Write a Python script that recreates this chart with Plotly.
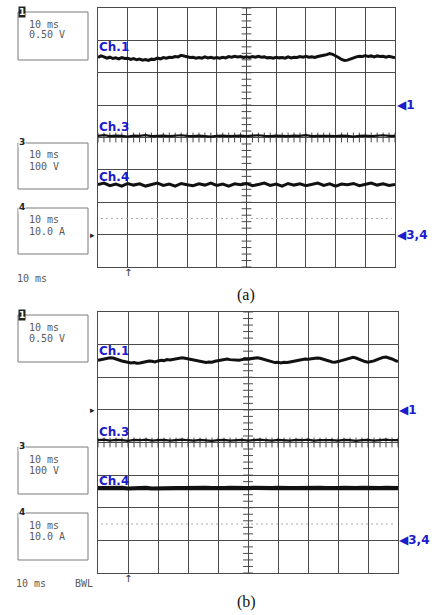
import plotly.graph_objects as go

W, H = 434, 615

# ---------------- data (screen divisions; time in ms, 10 ms/div) ----------------
t_fine = [i * 1.0 for i in range(101)]          # 0..100 ms, 1 ms steps
t_coarse = [i * 2.0 for i in range(51)]         # 0..100 ms, 2 ms steps

a_ch1 = [2.47, 2.52, 2.49, 2.45, 2.48, 2.44, 2.46, 2.43, 2.47, 2.44,
         2.45, 2.41, 2.44, 2.40, 2.42, 2.39, 2.41, 2.38, 2.42, 2.41,
         2.45, 2.43, 2.47, 2.45, 2.48, 2.47, 2.50, 2.49, 2.54, 2.51,
         2.50, 2.47, 2.48, 2.45, 2.47, 2.45, 2.49, 2.46, 2.48, 2.45,
         2.47, 2.45, 2.48, 2.46, 2.50, 2.48, 2.51, 2.49, 2.50, 2.47,
         2.49, 2.47, 2.50, 2.48, 2.51, 2.48, 2.49, 2.46, 2.47, 2.45,
         2.48, 2.46, 2.47, 2.45, 2.49, 2.46, 2.48, 2.47, 2.50, 2.48,
         2.51, 2.48, 2.49, 2.47, 2.50, 2.51, 2.54, 2.56, 2.59, 2.57,
         2.53, 2.47, 2.41, 2.38, 2.39, 2.43, 2.46, 2.49, 2.51, 2.50,
         2.53, 2.50, 2.52, 2.49, 2.52, 2.50, 2.51, 2.48, 2.51, 2.49,
         2.46]
a_ch3 = [0.05, 0.07, 0.04, 0.06, 0.05, 0.03, 0.06, 0.05, 0.07, 0.04,
         0.05, 0.06, 0.04, 0.05, 0.07, 0.05, 0.04, 0.06, 0.05, 0.03,
         0.05, 0.06, 0.04, 0.05, 0.06, 0.04, 0.05, 0.07, 0.05, 0.04,
         0.06, 0.05, 0.04, 0.06, 0.05, 0.07, 0.04, 0.05, 0.06, 0.05,
         0.04, 0.06, 0.05, 0.03, 0.05, 0.06, 0.04, 0.05, 0.07, 0.05,
         0.05]
a_ch4 = [-1.45, -1.41, -1.49, -1.44, -1.50, -1.42, -1.47, -1.43, -1.50, -1.45,
         -1.41, -1.48, -1.44, -1.50, -1.42, -1.46, -1.49, -1.43, -1.47, -1.41,
         -1.48, -1.44, -1.50, -1.43, -1.46, -1.42, -1.49, -1.45, -1.41, -1.48,
         -1.44, -1.50, -1.42, -1.47, -1.43, -1.49, -1.45, -1.41, -1.48, -1.43,
         -1.50, -1.44, -1.46, -1.42, -1.49, -1.45, -1.41, -1.47, -1.43, -1.48,
         -1.45]

b_ch1 = [2.52, 2.54, 2.56, 2.58, 2.60, 2.59, 2.57, 2.53, 2.50, 2.48,
         2.46, 2.44, 2.45, 2.43, 2.44, 2.46, 2.48, 2.50, 2.49, 2.47,
         2.50, 2.52, 2.51, 2.54, 2.53, 2.55, 2.57, 2.59, 2.60, 2.58,
         2.56, 2.53, 2.51, 2.49, 2.47, 2.46, 2.45, 2.47, 2.46, 2.49,
         2.51, 2.53, 2.55, 2.56, 2.54, 2.53, 2.51, 2.52, 2.54, 2.56,
         2.55, 2.57, 2.59, 2.60, 2.58, 2.55, 2.52, 2.49, 2.47, 2.45,
         2.46, 2.44, 2.46, 2.45, 2.47, 2.49, 2.51, 2.53, 2.54, 2.56,
         2.55, 2.57, 2.58, 2.59, 2.58, 2.56, 2.53, 2.50, 2.47, 2.46,
         2.48, 2.51, 2.54, 2.57, 2.60, 2.61, 2.59, 2.55, 2.51, 2.48,
         2.46, 2.47, 2.50, 2.54, 2.58, 2.61, 2.62, 2.60, 2.56, 2.52,
         2.48]
b_ch3 = [0.07, 0.09, 0.06, 0.08, 0.07, 0.05, 0.08, 0.07, 0.09, 0.06,
         0.07, 0.08, 0.06, 0.07, 0.09, 0.07, 0.06, 0.08, 0.07, 0.05,
         0.07, 0.08, 0.06, 0.07, 0.08, 0.06, 0.07, 0.09, 0.07, 0.06,
         0.08, 0.07, 0.06, 0.08, 0.07, 0.09, 0.06, 0.07, 0.08, 0.07,
         0.06, 0.08, 0.07, 0.05, 0.07, 0.08, 0.06, 0.07, 0.09, 0.07,
         0.07]
b_ch4 = [-1.40, -1.39, -1.41, -1.40, -1.39, -1.41, -1.40, -1.40, -1.39, -1.41,
         -1.40, -1.39, -1.41, -1.40, -1.40, -1.39, -1.41, -1.40, -1.39, -1.40,
         -1.41, -1.40, -1.39, -1.40, -1.41, -1.40, -1.39, -1.40, -1.41, -1.40,
         -1.39, -1.41, -1.40, -1.40, -1.39, -1.41, -1.40, -1.39, -1.40, -1.41,
         -1.40, -1.39, -1.41, -1.40, -1.39, -1.40, -1.41, -1.40, -1.39, -1.40,
         -1.40]

channel_names = ["Ch.1", "Ch.3", "Ch.4"]
label_y_a = [2.80, 0.32, -1.22]
label_y_b = [2.82, 0.32, -1.19]
ground_levels = [1.0, -3.0]             # "◀1" and "◀3,4"
ground_texts = ["1", "3,4"]
trig_level_a = -3.0
trig_level_b = 1.0
trig_time = 10.0
cursor_level = -2.5
box_texts = [("1", "10 ms", "0.50 V"), ("3", "10 ms", "100 V"), ("4", "10 ms", "10.0 A")]
captions = ["(a)", "(b)"]

# ---------------- helpers ----------------
def px(x):
    return x / W

def py(y):
    return 1 - y / H

GRID = "#4a4a4a"
BLUE = "#1c1ccc"
TXT = "#5a5a5a"

fig = go.Figure()

panels = [
    dict(xa="x", ya="y", ch1=a_ch1, ch3=a_ch3, ch4=a_ch4, w4=3.0, ly=label_y_a,
         trig=trig_level_a, right=396),
    dict(xa="x2", ya="y2", ch1=b_ch1, ch3=b_ch3, ch4=b_ch4, w4=4.2, ly=label_y_b,
         trig=trig_level_b, right=398),
]

tick_t = [i * 2.0 for i in range(51)]
tick_v = [-4 + i * 0.2 for i in range(41)]

for p in panels:
    xa, ya = p["xa"], p["ya"]
    # cursor dotted line
    fig.add_trace(go.Scatter(x=[1, 99], y=[cursor_level, cursor_level], mode="lines",
                             line=dict(color="#aaaaaa", width=1, dash="2px,3px"),
                             xaxis=xa, yaxis=ya, hoverinfo="skip", showlegend=False))
    # center graticule ticks
    fig.add_trace(go.Scatter(x=tick_t, y=[0] * len(tick_t), mode="markers",
                             marker=dict(symbol="line-ns", size=7, line=dict(width=1, color=GRID)),
                             xaxis=xa, yaxis=ya, hoverinfo="skip", showlegend=False))
    fig.add_trace(go.Scatter(x=[50] * len(tick_v), y=tick_v, mode="markers",
                             marker=dict(symbol="line-ew", size=7, line=dict(width=1, color=GRID)),
                             xaxis=xa, yaxis=ya, hoverinfo="skip", showlegend=False))
    # waveforms
    fig.add_trace(go.Scatter(x=t_fine, y=p["ch1"], mode="lines",
                             line=dict(color="#111111", width=3),
                             xaxis=xa, yaxis=ya, hoverinfo="skip", showlegend=False))
    fig.add_trace(go.Scatter(x=t_coarse, y=p["ch3"], mode="lines",
                             line=dict(color="#111111", width=2.2),
                             xaxis=xa, yaxis=ya, hoverinfo="skip", showlegend=False))
    fig.add_trace(go.Scatter(x=t_coarse, y=p["ch4"], mode="lines",
                             line=dict(color="#111111", width=p["w4"]),
                             xaxis=xa, yaxis=ya, hoverinfo="skip", showlegend=False))
    # channel labels
    for name, yv in zip(channel_names, p["ly"]):
        fig.add_annotation(x=0, y=yv, xref=xa, yref=ya, text="<b>" + name + "</b>", showarrow=False,
                           xanchor="left", yanchor="middle", xshift=-1,
                           font=dict(family="DejaVu Sans", size=12, color=BLUE))
    # ground markers on the right
    for lvl, gt in zip(ground_levels, ground_texts):
        fig.add_annotation(x=px(p["right"]), y=lvl, xref="paper", yref=ya,
                           text="◀<b>" + gt + "</b>", showarrow=False,
                           xanchor="left", yanchor="middle", borderpad=0,
                           font=dict(family="DejaVu Sans", size=12, color=BLUE))
    # trigger level marker (left)
    fig.add_annotation(x=px(97), y=p["trig"], xref="paper", yref=ya,
                       text="▸", showarrow=False, xanchor="right", yanchor="middle",
                       font=dict(family="DejaVu Sans", size=9, color="#222222"))
    # trigger position (below grid)
    fig.add_annotation(x=trig_time, y=-4.0, xref=xa, yref=ya,
                       text="↑", showarrow=False, xanchor="center", yanchor="top", yshift=2,
                       font=dict(family="DejaVu Sans", size=10, color="#333333"))

axis_common = dict(showgrid=True, gridcolor=GRID, gridwidth=1, zeroline=False,
                   showline=True, mirror=True, linecolor=GRID, linewidth=1,
                   showticklabels=False, ticks="", fixedrange=True)

fig.update_layout(
    width=W, height=H,
    margin=dict(l=0, r=0, t=0, b=0),
    paper_bgcolor="white", plot_bgcolor="white",
    showlegend=False,
    xaxis=dict(domain=[px(98), px(395)], range=[0, 100], dtick=10, anchor="y", **axis_common),
    yaxis=dict(domain=[py(267), py(8)], range=[-4, 4], dtick=1, anchor="x", **axis_common),
    xaxis2=dict(domain=[px(98), px(398)], range=[0, 100], dtick=10, anchor="y2", **axis_common),
    yaxis2=dict(domain=[py(573), py(312)], range=[-4, 4], dtick=1, anchor="x2", **axis_common),
)

# info boxes on the left
box_rows = [
    [(12, 60), (143, 189), (208, 254)],
    [(315, 362), (447, 494), (513, 560)],
]
mono = "DejaVu Sans Mono"
for rows in box_rows:
    for (y0, y1), (num, l1, l2) in zip(rows, box_texts):
        fig.add_shape(type="rect", xref="paper", yref="paper",
                      x0=px(18), x1=px(88), y0=py(y1), y1=py(y0),
                      line=dict(color="#7a7a7a", width=1), fillcolor="rgba(0,0,0,0)")
        if num == "1":
            fig.add_annotation(x=px(22), y=py(y0), xref="paper", yref="paper",
                               text="<b>1</b>", showarrow=False, xanchor="center", yanchor="middle",
                               bgcolor="#222222", borderpad=0,
                               font=dict(family="DejaVu Sans", size=9, color="white"))
        else:
            fig.add_annotation(x=px(22), y=py(y0 - 1), xref="paper", yref="paper",
                               text="<b>" + num + "</b>", showarrow=False, xanchor="center", yanchor="middle",
                               bgcolor="white", borderpad=0,
                               font=dict(family="DejaVu Sans", size=9, color="#222222"))
        fig.add_annotation(x=px(27), y=py(y0 + 12), xref="paper", yref="paper",
                           text=l1, showarrow=False, xanchor="left", yanchor="middle",
                           font=dict(family=mono, size=10, color=TXT))
        fig.add_annotation(x=px(27), y=py(y0 + 23), xref="paper", yref="paper",
                           text=l2, showarrow=False, xanchor="left", yanchor="middle",
                           font=dict(family=mono, size=10, color=TXT))

# timebase readouts
fig.add_annotation(x=px(15), y=py(278), xref="paper", yref="paper", text="10 ms",
                   showarrow=False, xanchor="left", yanchor="middle",
                   font=dict(family=mono, size=10, color=TXT))
fig.add_annotation(x=px(14), y=py(583), xref="paper", yref="paper", text="10 ms",
                   showarrow=False, xanchor="left", yanchor="middle",
                   font=dict(family=mono, size=10, color=TXT))
fig.add_annotation(x=px(73), y=py(583), xref="paper", yref="paper", text="BWL",
                   showarrow=False, xanchor="left", yanchor="middle",
                   font=dict(family=mono, size=10, color=TXT))

# captions
for cap, ycap in zip(captions, [295, 602]):
    fig.add_annotation(x=px(246), y=py(ycap), xref="paper", yref="paper", text=cap,
                       showarrow=False, xanchor="center", yanchor="middle",
                       font=dict(family="Liberation Serif", size=16, color="#111111"))

fig.write_html("out.html")
